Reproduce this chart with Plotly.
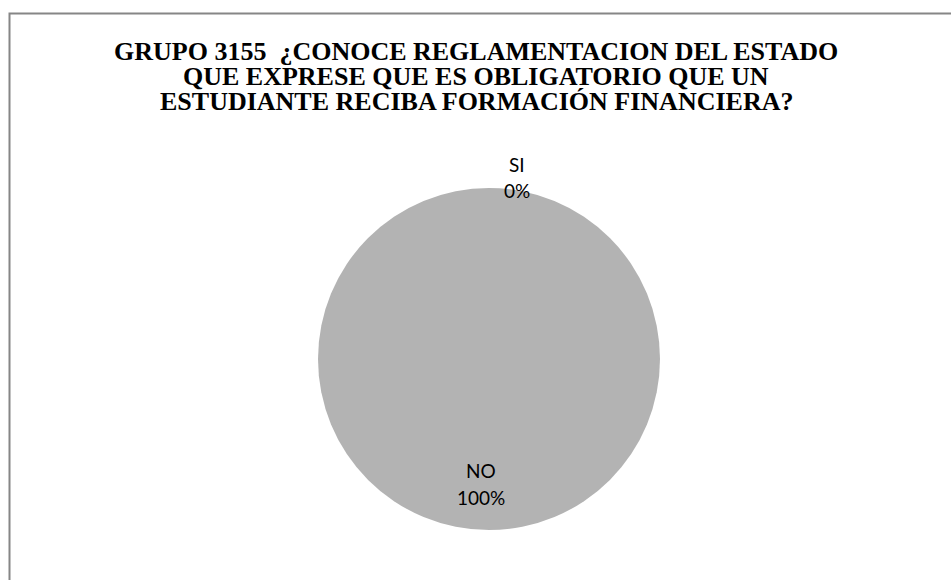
import plotly.graph_objects as go

labels = ['SI', 'NO']
values = [0, 100]
title_lines = ['GRUPO 3155  ¿CONOCE REGLAMENTACION DEL ESTADO',
               'QUE EXPRESE QUE ES OBLIGATORIO QUE UN',
               'ESTUDIANTE RECIBA FORMACIÓN FINANCIERA?']

W, H = 951, 580
total = sum(values)
pcts = [f'{round(v / total * 100)}%' for v in values]

fig = go.Figure(go.Pie(
    labels=labels, values=values, sort=False, direction='clockwise', rotation=0,
    marker=dict(colors=['#4F81BD', '#B3B3B3'], line=dict(width=0)),
    textinfo='none', hoverinfo='label+percent', showlegend=False,
    domain=dict(x=[318 / W, 660 / W], y=[1 - 530 / H, 1 - 188 / H]),
))

# title, one annotation per line
for i, line in enumerate(title_lines):
    fig.add_annotation(text=f'<b>{line}</b>', x=476 / W, y=1 - (52 + i * 24.8) / H,
                       xref='paper', yref='paper', showarrow=False,
                       xanchor='center', yanchor='middle',
                       font=dict(family='Liberation Serif, Times New Roman, serif',
                                 size=26, color='black'))

# data labels
label_pos = [(517, 164, 190), (481, 470, 497)]
for (lx, y1, y2), lab, p in zip(label_pos, labels, pcts):
    for yy, txt in ((y1, lab), (y2, p)):
        fig.add_annotation(text=txt, x=lx / W, y=1 - yy / H, xref='paper', yref='paper',
                           showarrow=False, xanchor='center', yanchor='middle',
                           font=dict(family='Lato', size=19, color='black'))

fig.add_shape(type='rect', xref='paper', yref='paper',
              x0=9.5 / W, x1=1.05, y0=-0.05, y1=1 - 13.5 / H,
              line=dict(color='#868686', width=2), fillcolor='rgba(0,0,0,0)')

fig.update_layout(width=W, height=H, margin=dict(l=0, r=0, t=0, b=0),
                  paper_bgcolor='white', plot_bgcolor='white')

fig.write_html('out.html', config={'displayModeBar': False},
               post_script="document.body.style.margin='0';")
